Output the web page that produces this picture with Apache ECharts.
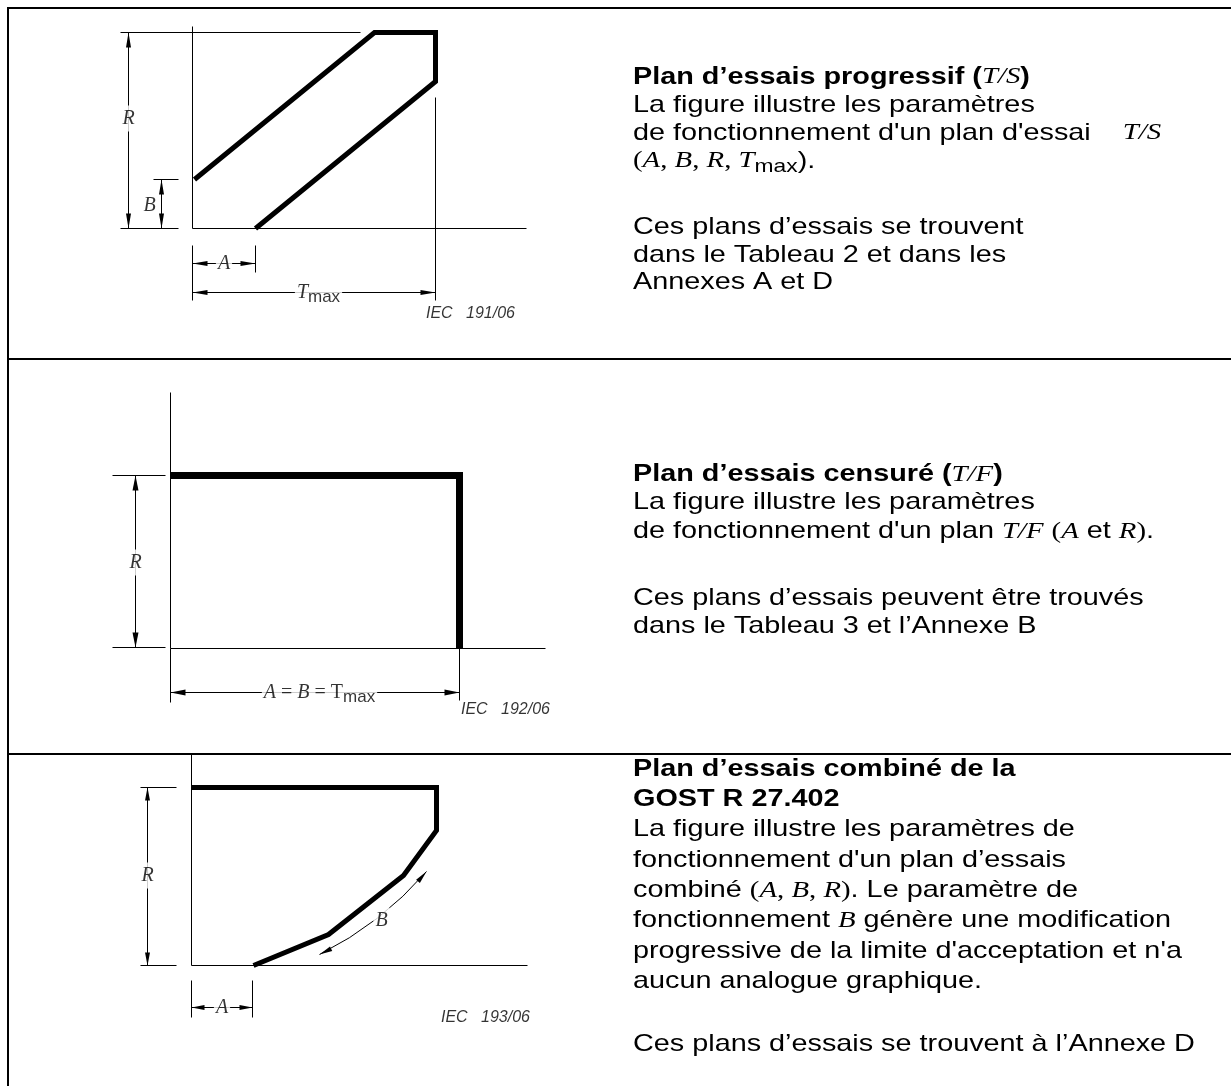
<!DOCTYPE html>
<html>
<head>
<meta charset="utf-8">
<title>Plans d'essais</title>
<script src="https://cdn.jsdelivr.net/npm/echarts@6.0.0/dist/echarts.min.js"></script>
<style>
html,body{margin:0;padding:0;background:#fff;}
#chart{width:1231px;height:1086px;}
</style>
</head>
<body>
<div id="chart"></div>
<script>
// ===================== DATA (drawing units, origin = corner of each figure's axes) =====================
// Figure 1 – progressive plan T/S
const fig1AxisLength = [334, 202];                       // x, y
const fig1Params     = [63, 49, 196, 243];               // A, B, R, Tmax
const fig1Boundary   = [[2, 49], [182, 196], [243, 196], [243, 147], [63, 0]];
// Figure 2 – censored plan T/F
const fig2AxisLength = [375, 256];
const fig2Params     = [289, 173];                       // A = B = Tmax, R
const fig2Boundary   = [[0, 173], [289, 173], [289, 0]];
// Figure 3 – combined plan GOST R 27.402
const fig3AxisLength = [336, 211];
const fig3Params     = [61, 178];                        // A, R
const fig3Boundary   = [[0, 178], [245, 178], [245, 135], [212, 90], [137, 31], [62, 0]];

// Figure tags
const figTags = ['IEC   191/06', 'IEC   192/06', 'IEC   193/06'];

// Descriptive texts (rich-text markup)
const text1a = [
  '{b|Plan d’essais progressif (}{i|T/S}{b|)}',
  '{n|La figure illustre les paramètres}',
  "{n|de fonctionnement d'un plan d'essai    }{i|T/S}",
  '{r|(}{i|A}{r|, }{i|B}{r|, }{i|R}{r|, }{i|T}{s|max}{n|).}'
];
const text1b = [
  '{n|Ces plans d’essais se trouvent}',
  '{n|dans le Tableau 2 et dans les}',
  '{n|Annexes A et D}'
];
const text2a = [
  '{b|Plan d’essais censuré (}{i|T/F}{b|)}',
  '{n|La figure illustre les paramètres}',
  "{n|de fonctionnement d'un plan }{i|T/F}{n| }{r|(}{i|A}{n| et }{i|R}{r|)}{n|.}"
];
const text2b = [
  '{n|Ces plans d’essais peuvent être trouvés}',
  '{n|dans le Tableau 3 et l’Annexe B}'
];
const text3a = [
  '{b|Plan d’essais combiné de la}',
  '{b|GOST R 27.402}',
  '{n|La figure illustre les paramètres de}',
  "{n|fonctionnement d'un plan d’essais}",
  '{n|combiné }{r|(}{i|A}{r|, }{i|B}{r|, }{i|R}{r|)}{n|. Le paramètre de}',
  '{n|fonctionnement }{i|B}{n| génère une modification}',
  "{n|progressive de la limite d'acceptation et n'a}",
  '{n|aucun analogue graphique.}'
];
const text3b = [
  '{n|Ces plans d’essais se trouvent à l’Annexe D}'
];

// ===================== LAYOUT =====================
const layout = [
  {ox: 192.5, oy: 228.5, box: [90, 12, 470, 340]},
  {ox: 170.5, oy: 648.5, box: [80, 365, 490, 370]},
  {ox: 191.5, oy: 965.5, box: [100, 750, 460, 320]}
];
const ARROW = 'path://M5,30L10,60L0,60ZM5,0';   // arrowhead whose tip sits at the centre of its box
const BLACK = '#000';

const grids = [], xAxes = [], yAxes = [];
layout.forEach((p, i) => {
  const [l, t, w, h] = p.box;
  grids.push({left: l, top: t, width: w, height: h, show: false});
  xAxes.push({type: 'value', gridIndex: i, min: l - p.ox, max: l + w - p.ox, show: false});
  yAxes.push({type: 'value', gridIndex: i, min: p.oy - (t + h), max: p.oy - t, show: false});
});

function seg(a, b) { return {coords: [a, b]}; }

const labelRich = {
  it: {fontFamily: 'Liberation Serif', fontStyle: 'italic', fontSize: 20, color: BLACK},
  up: {fontFamily: 'Liberation Serif', fontSize: 20, color: BLACK},
  sb: {fontFamily: 'Liberation Sans', fontSize: 17, color: BLACK, padding: [10, 0, 0, 0]}
};

function panelSeries(i, boundary, width, thin, dims, labels, tag, arrowSize) {
  const ax = {xAxisIndex: i, yAxisIndex: i};
  return [
    Object.assign({type: 'line', data: boundary, symbol: 'none', clip: false, z: 3, silent: true,
      lineStyle: {color: BLACK, width: width, join: 'miter', cap: 'butt'}}, ax),
    Object.assign({type: 'lines', coordinateSystem: 'cartesian2d', data: thin, clip: false, z: 2, silent: true,
      symbol: 'none', lineStyle: {color: BLACK, width: 1, opacity: 1}}, ax),
    Object.assign({type: 'lines', coordinateSystem: 'cartesian2d', data: dims, clip: false, z: 2, silent: true,
      symbol: [ARROW, ARROW], symbolSize: [arrowSize, arrowSize],
      lineStyle: {color: BLACK, width: 1, opacity: 1}}, ax),
    Object.assign({type: 'scatter', data: labels, clip: false, z: 5, silent: true, symbolSize: 1,
      itemStyle: {color: 'rgba(0,0,0,0)'},
      label: {show: true, position: 'inside', formatter: p => p.name, backgroundColor: '#fff',
        padding: [3, 2], rich: labelRich}}, ax),
    Object.assign({type: 'scatter', data: [tag], clip: false, z: 5, silent: true, symbolSize: 1,
      itemStyle: {color: 'rgba(0,0,0,0)'},
      label: {show: true, position: 'right', distance: 0, formatter: p => p.name, color: BLACK,
        fontFamily: 'Liberation Sans', fontStyle: 'italic', fontSize: 16}}, ax)
  ];
}

// ---- Figure 1
const [A1, B1, R1, T1] = fig1Params;
const s1 = panelSeries(0, fig1Boundary, 5,
  [seg([0, 0], [0, fig1AxisLength[1]]), seg([0, 0], [fig1AxisLength[0], 0]),
   seg([-72, R1], [168, R1]), seg([-72, 0], [-14, 0]), seg([-39, B1], [-14, B1]),
   seg([T1, 131], [T1, -72]), seg([0, -17], [0, -72]), seg([A1, -17], [A1, -44])],
  [seg([-64, R1], [-64, 0]), seg([-31, B1], [-31, 0]), seg([0, -35], [A1, -35]), seg([0, -64], [T1, -64])],
  [{name: '{it|R}', value: [-64, 110]}, {name: '{it|B}', value: [-43, 23]},
   {name: '{it|A}', value: [A1 / 2, -35]}, {name: '{it|T}{sb|max}', value: [126, -64]}],
  {name: figTags[0], value: [233, -85]}, [5, 30]);

// ---- Figure 2
const [T2, R2] = fig2Params;
const s2 = panelSeries(1, fig2Boundary, 7,
  [seg([0, 0], [0, fig2AxisLength[1]]), seg([0, 0], [fig2AxisLength[0], 0]),
   seg([-58, R2], [-5, R2]), seg([-58, 1], [-5, 1]), seg([0, 0], [0, -54]), seg([T2, 0], [T2, -52])],
  [seg([-35, R2], [-35, 1]), seg([0, -44], [T2, -44])],
  [{name: '{it|R}', value: [-35, 86]}, {name: '{it|A}{up| = }{it|B}{up| = T}{sb|max}', value: [149, -44]}],
  {name: figTags[1], value: [290, -61]}, [6, 30]);

// ---- Figure 3
const [A3, R3] = fig3Params;
const s3 = panelSeries(2, fig3Boundary, 5,
  [seg([0, 0], [0, fig3AxisLength[1]]), seg([0, 0], [fig3AxisLength[0], 0]),
   seg([-51, R3], [-15, R3]), seg([-51, 0], [-15, 0]), seg([0, -15], [0, -52]), seg([A3, -15], [A3, -52])],
  [seg([-44, R3], [-44, 0]), seg([0, -42], [A3, -42]),
   {coords: [[235, 94], [128, 11]], lineStyle: {curveness: 0.1}}],
  [{name: '{it|R}', value: [-44, 90]}, {name: '{it|A}', value: [A3 / 2, -42]}, {name: '{it|B}', value: [190, 45]}],
  {name: figTags[2], value: [249, -52]}, [5, 26]);

// ---- Right-hand texts (graphic text, slightly widened to match the source typeface)
const TEXT_X = 633, TEXT_STRETCH = 1.2;
function rich(L) {
  const base = {fill: BLACK, lineHeight: L, fontWeight: 'normal', fontStyle: 'normal'};
  return {
    n: Object.assign({}, base, {fontFamily: 'Liberation Sans', fontSize: 24}),
    b: Object.assign({}, base, {fontFamily: 'Liberation Sans', fontSize: 24, fontWeight: 'bold'}),
    i: Object.assign({}, base, {fontFamily: 'Liberation Serif', fontSize: 24, fontStyle: 'italic'}),
    r: Object.assign({}, base, {fontFamily: 'Liberation Serif', fontSize: 24}),
    s: Object.assign({}, base, {fontFamily: 'Liberation Sans', fontSize: 19, padding: [12, 0, 0, 0]})
  };
}
function block(lines, top, L) {
  return {type: 'text', x: TEXT_X, y: top, scaleX: TEXT_STRETCH, scaleY: 1, silent: true,
    style: {text: lines.join('\n'), fill: BLACK, fontFamily: 'Liberation Sans', fontSize: 24,
      lineHeight: L, align: 'left', verticalAlign: 'top', rich: rich(L)}};
}

// ---- Table frame
const frame = [
  {x1: 7, y1: 8, x2: 1240, y2: 8},
  {x1: 8, y1: 7, x2: 8, y2: 1090},
  {x1: 7, y1: 359, x2: 1240, y2: 359},
  {x1: 7, y1: 754, x2: 1240, y2: 754}
].map(s => ({type: 'line', shape: s, style: {stroke: BLACK, lineWidth: 2}, silent: true}));

const chart = echarts.init(document.getElementById('chart'), null, {renderer: 'canvas'});
chart.setOption({
  backgroundColor: '#fff',
  animation: false,
  grid: grids,
  xAxis: xAxes,
  yAxis: yAxes,
  graphic: frame.concat([
    block(text1a, 63, 28), block(text1b, 214, 27.5),
    block(text2a, 460, 28.5), block(text2b, 584, 28.5),
    block(text3a, 754, 30.3), block(text3b, 1029, 30.3)
  ]),
  series: [].concat(s1, s2, s3)
});
</script>
</body>
</html>
